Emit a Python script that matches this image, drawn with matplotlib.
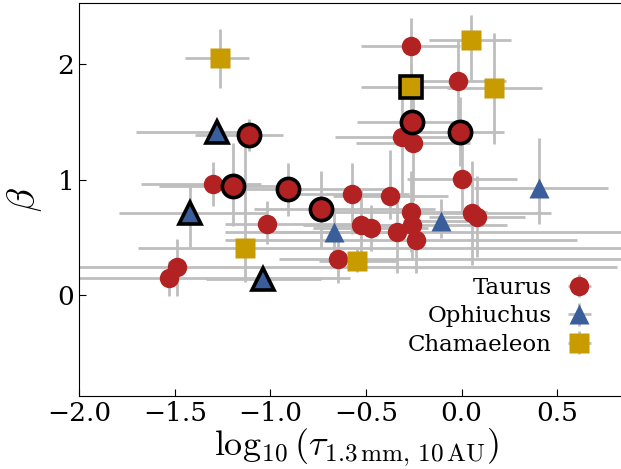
import numpy as np
import matplotlib
matplotlib.use("Agg")
import matplotlib.pyplot as plt

plt.rcParams["font.family"] = "DejaVu Serif"
plt.rcParams["mathtext.fontset"] = "cm"

# Taurus
tau_x = [-1.112, -1.299, -1.194, -0.906, -0.737, -1.016, -0.575, -1.490, -1.532,
         -0.645, -0.528, -0.475, -0.266, -0.017, -0.259, -0.006, -0.313, -0.254,
         0.002, -0.372, -0.267, -0.338, -0.261, -0.239, 0.055, 0.079]
tau_y = [1.385, 0.961, 0.944, 0.915, 0.742, 0.615, 0.872, 0.240, 0.145,
         0.309, 0.606, 0.583, 2.156, 1.853, 1.494, 1.414, 1.364, 1.313,
         1.003, 0.857, 0.723, 0.545, 0.606, 0.476, 0.714, 0.678]
tau_xlo = [0.28, 0.38, 0.39, 0.35, 0.35, 0.22, 0.30, 0.80, 0.70,
           0.31, 0.30, 0.30, 0.26, 0.25, 0.29, 0.23, 0.35, 0.30,
           0.29, 0.30, 0.40, 0.90, 0.50, 1.00, 0.30, 0.25]
tau_xhi = [0.18, 0.25, 0.35, 0.50, 0.60, 0.45, 0.30, 2.30, 0.95,
           1.50, 0.30, 0.30, 0.26, 0.25, 0.29, 0.23, 0.35, 0.30,
           0.29, 0.30, 0.40, 1.20, 0.50, 0.84, 0.41, 0.25]
tau_ylo = [0.14, 0.19, 0.35, 0.23, 0.33, 0.17, 0.34, 0.25, 0.15,
           0.20, 0.30, 0.20, 0.24, 0.35, 0.25, 0.30, 0.50, 0.50,
           0.30, 0.20, 0.35, 0.35, 0.30, 0.28, 0.45, 0.35]
tau_yhi = [0.14, 0.19, 0.37, 0.23, 0.33, 0.20, 0.27, 0.25, 0.15,
           0.20, 0.30, 0.20, 0.24, 0.35, 0.25, 0.30, 0.40, 0.50,
           0.30, 0.40, 0.35, 0.35, 0.30, 0.28, 0.45, 0.35]
tau_edge = [1, 0, 1, 1, 1, 0, 0, 0, 0, 0, 0, 0, 0, 0, 1, 1, 0, 0,
            0, 0, 0, 0, 0, 0, 0, 0]

# Ophiuchus
oph_x = [-1.281, -1.420, -1.037, -0.667, -0.109, 0.406]
oph_y = [1.414, 0.707, 0.139, 0.545, 0.641, 0.926]
oph_xlo = [0.42, 0.37, 0.30, 0.30, 0.20, 0.34]
oph_xhi = [0.20, 0.40, 0.30, 0.30, 0.20, 0.36]
oph_ylo = [0.10, 0.29, 0.10, 0.20, 0.15, 0.31]
oph_yhi = [0.10, 0.25, 0.10, 0.20, 0.19, 0.43]
oph_edge = [1, 1, 1, 0, 0, 0]

# Chamaeleon
cha_x = [-1.264, -1.131, -0.545, -0.265, 0.049, 0.171]
cha_y = [2.049, 0.404, 0.297, 1.798, 2.208, 1.790]
cha_xlo = [0.18, 0.56, 0.20, 0.26, 0.22, 0.25]
cha_xhi = [0.15, 2.00, 0.20, 0.26, 0.21, 0.25]
cha_ylo = [0.26, 0.29, 0.10, 0.20, 0.35, 0.48]
cha_yhi = [0.25, 1.00, 0.10, 0.20, 0.21, 0.48]
cha_edge = [0, 0, 0, 1, 0, 0]

groups = [
    ("Taurus", "o", "#b22222", tau_x, tau_y, tau_xlo, tau_xhi, tau_ylo, tau_yhi, tau_edge),
    ("Ophiuchus", "^", "#3a5d9c", oph_x, oph_y, oph_xlo, oph_xhi, oph_ylo, oph_yhi, oph_edge),
    ("Chamaeleon", "s", "#c89b00", cha_x, cha_y, cha_xlo, cha_xhi, cha_ylo, cha_yhi, cha_edge),
]

fig = plt.figure(figsize=(6.21, 4.69), dpi=100)
ax = fig.add_axes([0.1275, 0.156, 0.893, 0.8386])

handles = []
for name, mk, col, x, y, xlo, xhi, ylo, yhi, edge in groups:
    x = np.array(x)
    y = np.array(y)
    edge = np.array(edge, dtype=bool)
    eb = ax.errorbar(x[~edge], y[~edge],
                     xerr=[np.array(xlo)[~edge], np.array(xhi)[~edge]],
                     yerr=[np.array(ylo)[~edge], np.array(yhi)[~edge]],
                     fmt=mk, color=col, ms=14, mec="none",
                     ecolor="#bebebe", elinewidth=2, capsize=0,
                     label=name, zorder=2)
    eb.lines[0].set_zorder(3)
    if edge.any():
        ax.errorbar(x[edge], y[edge],
                    xerr=[np.array(xlo)[edge], np.array(xhi)[edge]],
                    yerr=[np.array(ylo)[edge], np.array(yhi)[edge]],
                    fmt="none", ecolor="#bebebe", elinewidth=2, capsize=0,
                    zorder=2)
        ax.plot(x[edge], y[edge], mk, color=col, ms=16, mec="k", mew=2.6,
                zorder=4)
    handles.append(eb)

ax.set_xlim(-2.0, 0.9)
ax.set_ylim(-0.87, 2.53)
ax.set_xticks([-2.0, -1.5, -1.0, -0.5, 0.0, 0.5])
ax.set_yticks([0, 1, 2])
ax.tick_params(direction="in", labelsize=19, length=5)

ax.set_xlabel(r"$\log_{10}(\tau_{1.3\,\mathrm{mm},\,10\,\mathrm{AU}})$",
              fontsize=26, labelpad=0)
ax.set_ylabel(r"$\beta$", fontsize=28, labelpad=10)

ax.legend(handles=handles, loc="lower right", frameon=False, markerfirst=False,
          fontsize=16.5, handlelength=1.0, handletextpad=0.7, labelspacing=0.28,
          bbox_to_anchor=(0.96, 0.05))

fig.savefig("out.png", dpi=100)
